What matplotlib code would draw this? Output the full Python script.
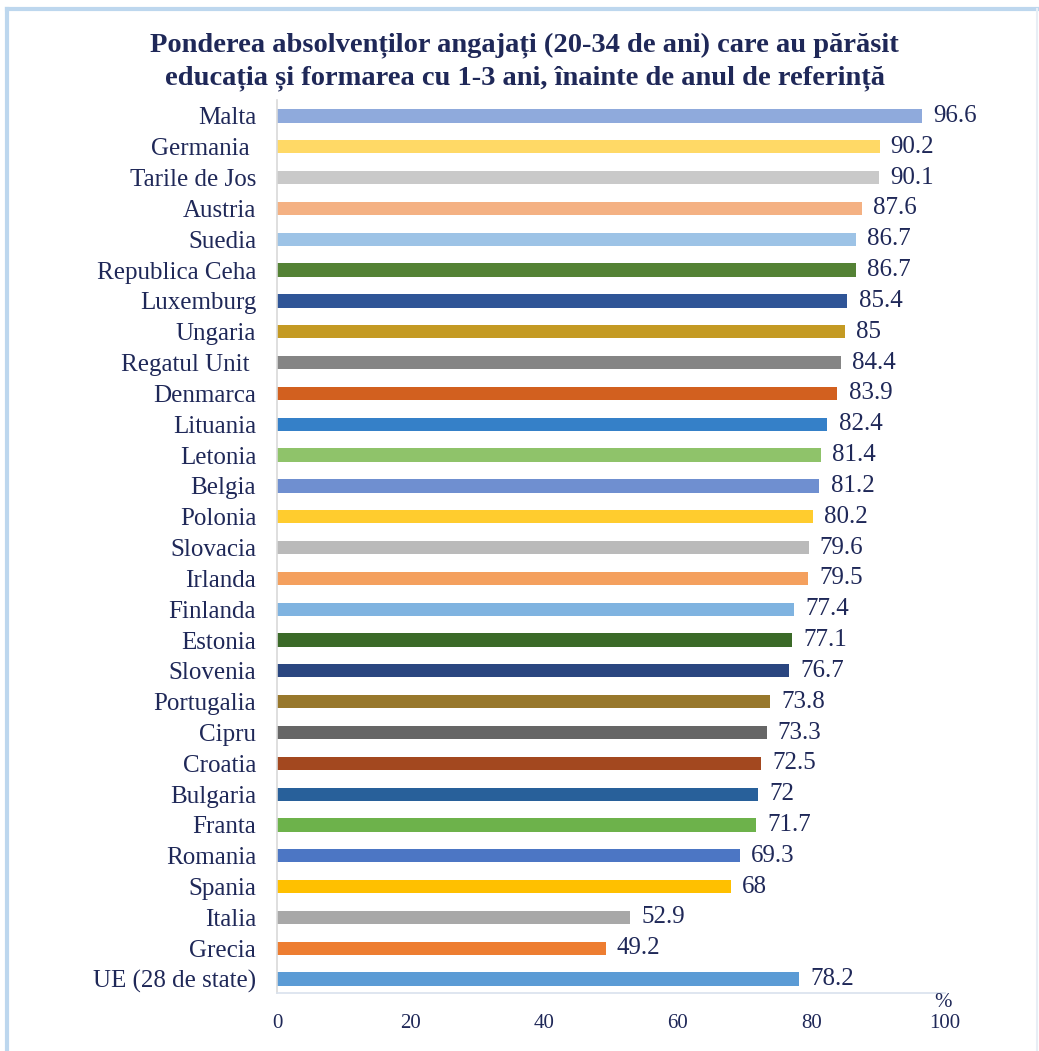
import matplotlib
matplotlib.use('Agg')
import matplotlib.pyplot as plt
from matplotlib.lines import Line2D

# tari, de sus in jos
tari = ["Malta", "Germania ", "Tarile de Jos", "Austria", "Suedia", "Republica Ceha",
        "Luxemburg", "Ungaria", "Regatul Unit ", "Denmarca", "Lituania", "Letonia",
        "Belgia", "Polonia", "Slovacia", "Irlanda", "Finlanda", "Estonia", "Slovenia",
        "Portugalia", "Cipru", "Croatia", "Bulgaria", "Franta", "Romania", "Spania",
        "Italia", "Grecia", "UE (28 de state)"]
valori = [96.6, 90.2, 90.1, 87.6, 86.7, 86.7, 85.4, 85, 84.4, 83.9, 82.4, 81.4,
          81.2, 80.2, 79.6, 79.5, 77.4, 77.1, 76.7, 73.8, 73.3, 72.5, 72, 71.7,
          69.3, 68, 52.9, 49.2, 78.2]
etichete = ["96.6", "90.2", "90.1", "87.6", "86.7", "86.7", "85.4", "85", "84.4",
            "83.9", "82.4", "81.4", "81.2", "80.2", "79.6", "79.5", "77.4", "77.1",
            "76.7", "73.8", "73.3", "72.5", "72", "71.7", "69.3", "68", "52.9",
            "49.2", "78.2"]
culori = ["#8FAADC", "#FFD966", "#C9C9C9", "#F4B183", "#9DC3E6", "#548235",
          "#2F5597", "#C49A23", "#858585", "#D2601F", "#3580C8", "#8FC36A",
          "#6F8FD0", "#FFCC2E", "#BABABA", "#F4A05E", "#7FB3E0", "#3B6A28",
          "#2A4680", "#98782C", "#666666", "#A3481F", "#28609A", "#6DB24B",
          "#4C76C4", "#FFC000", "#A8A8A8", "#ED7D31", "#5B9BD5"]

navy = "#1F2858"
serif = "Liberation Serif"

fig = plt.figure(figsize=(10.39, 10.51), dpi=100)
ax = fig.add_axes([0.2666, 0.0552, 0.6429, 0.8497])

n = len(tari)
poz = [n - 1 - i for i in range(n)]
ax.barh(poz, valori, height=0.43, color=culori, edgecolor='none')

for p, v, t in zip(poz, valori, etichete):
    ax.annotate(t, (v, p), xytext=(8, 0), textcoords='offset points',
                va='center', ha='left', fontsize=18, color=navy, family=serif)

ax.set_ylim(-0.45, n - 1 + 0.52)
ax.set_xlim(0, 100)
ax.set_yticks(poz)
ax.set_yticklabels(tari, fontsize=18, color=navy, family=serif)
ax.set_xticks([0, 20, 40, 60, 80, 100])
ax.set_xticklabels(["0", "20", "40", "60", "80", "100"], fontsize=15,
                   color=navy, family=serif)
ax.tick_params(axis='both', length=0)
ax.tick_params(axis='x', pad=15)
ax.tick_params(axis='y', pad=15)

for s in ['top', 'right']:
    ax.spines[s].set_visible(False)
ax.spines['left'].set_color('#D9D9D9')
ax.spines['bottom'].set_color('#D9E2EE')
ax.spines['left'].set_linewidth(1.2)
ax.spines['bottom'].set_linewidth(1.2)

# "%" langa capatul axei
fig.text(0.9076, 0.0415, "%", fontsize=15, color=navy, family=serif, ha='center')

fig.text(0.505, 0.9415, "Ponderea absolvenților angajați (20-34 de ani) care au părăsit\n"
         "educația și formarea cu 1-3 ani, înainte de anul de referință",
         ha='center', va='center', fontsize=20.5, fontweight='bold', color=navy,
         family=serif, linespacing=1.4)

# chenar albastru deschis
bc = "#BDD7EE"
fig.add_artist(Line2D([0.007, 0.007], [0, 0.991], color=bc, lw=3, transform=fig.transFigure))
fig.add_artist(Line2D([0.007, 0.998], [0.991, 0.991], color=bc, lw=3, transform=fig.transFigure))
fig.add_artist(Line2D([0.998, 0.998], [0, 0.991], color="#E8EEF5", lw=1.5, transform=fig.transFigure))

fig.savefig("out.png", dpi=100)
